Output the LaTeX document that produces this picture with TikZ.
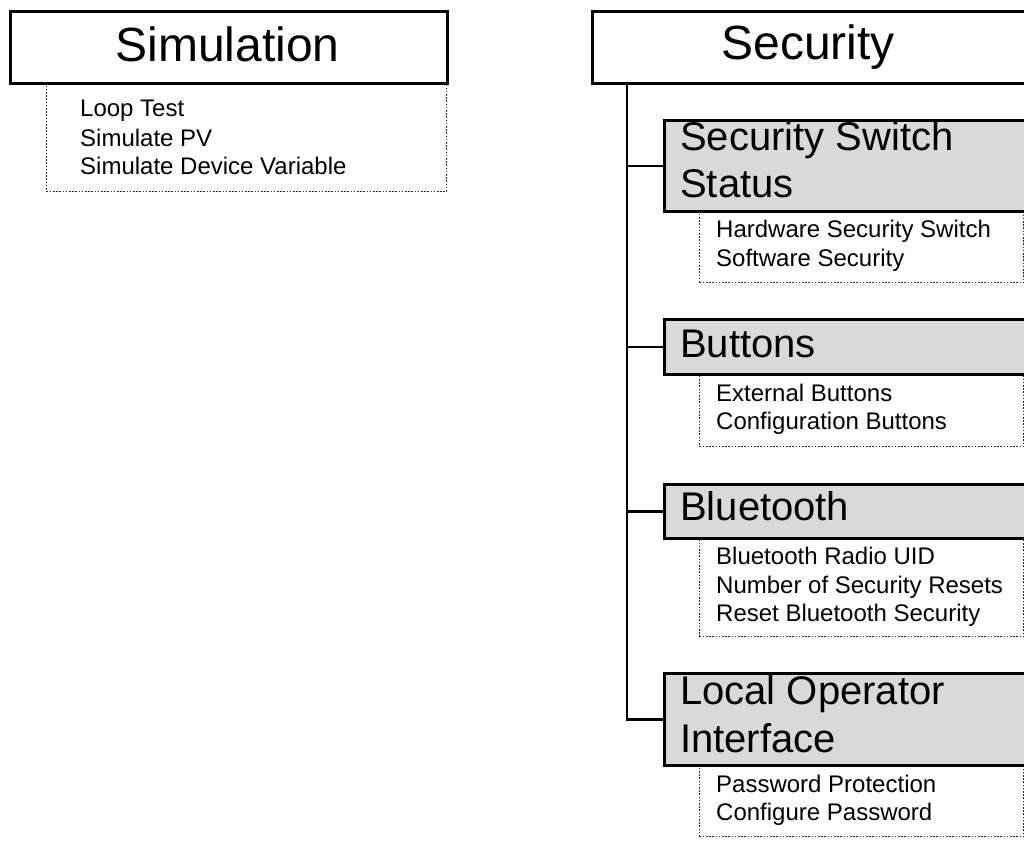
\documentclass[tikz,border=0pt]{standalone}
\usepackage{fontspec}
\setmainfont{Liberation Sans}
\begin{document}
\begin{tikzpicture}[x=1pt,y=-1pt,
  box/.style={draw=black, line width=2.6pt, rectangle, anchor=north west, inner sep=0pt, fill=white},
  subbox/.style={box, fill=gray!30},
  listbox/.style={draw=black!85, line width=1.3pt, dash pattern=on 1.6pt off 1.6pt, rectangle, anchor=north west, inner sep=0pt},
  bigtxt/.style={font=\fontsize{48}{55}\selectfont, anchor=base, inner sep=0pt},
  midtxt/.style={font=\fontsize{40}{47}\selectfont, anchor=base west, inner sep=0pt},
  itemtxt/.style={font=\fontsize{24}{28}\selectfont, anchor=base west, inner sep=0pt},
  conn/.style={draw=black, line width=2.6pt}]
\useasboundingbox (0,0) rectangle (1024,856);
\clip (0,0) rectangle (1024,856);

% Simulation
\node[listbox, minimum width=400pt, minimum height=109pt] (simlist) at (46,82) {};
\node[box, minimum width=437pt, minimum height=72pt] (sim) at (9,10) {};
\node[bigtxt] (simt) at (227.5,62) {Simulation};
\node[itemtxt] (sim1) at (80,117) {Loop Test};
\node[itemtxt] (sim2) at (80,146) {Simulate PV};
\node[itemtxt] (sim3) at (80,174) {Simulate Device Variable};

% Security
\node[box, minimum width=434pt, minimum height=72pt] (sec) at (591,10) {};
\node[bigtxt] (sect) at (808,60) {Security};

% Security Switch Status
\node[listbox, minimum width=324pt, minimum height=72pt] (ssslist) at (699,210) {};
\node[subbox, minimum width=370pt, minimum height=91pt] (sss) at (663,119) {};
\node[midtxt] (ssst1) at (680,150) {Security Switch};
\node[midtxt] (ssst2) at (680,197) {Status};
\node[itemtxt] (sss1) at (716,237) {Hardware Security Switch};
\node[itemtxt] (sss2) at (716,266) {Software Security};

% Buttons
\node[listbox, minimum width=324pt, minimum height=73pt] (btnlist) at (699,373) {};
\node[subbox, minimum width=370pt, minimum height=55pt] (btn) at (663,318) {};
\node[midtxt] (btnt) at (680,357) {Buttons};
\node[itemtxt] (btn1) at (716,401) {External Buttons};
\node[itemtxt] (btn2) at (716,429) {Configuration Buttons};

% Bluetooth
\node[listbox, minimum width=324pt, minimum height=99pt] (btlist) at (699,537) {};
\node[subbox, minimum width=370pt, minimum height=54pt] (bt) at (663,483) {};
\node[midtxt] (btt) at (680,520) {Bluetooth};
\node[itemtxt] (bt1) at (716,564) {Bluetooth Radio UID};
\node[itemtxt] (bt2) at (716,593) {Number of Security Resets};
\node[itemtxt] (bt3) at (716,621) {Reset Bluetooth Security};

% Local Operator Interface
\node[listbox, minimum width=324pt, minimum height=72pt] (loilist) at (699,764) {};
\node[subbox, minimum width=370pt, minimum height=92pt] (loi) at (663,672) {};
\node[midtxt] (loit1) at (680,704) {Local Operator};
\node[midtxt] (loit2) at (680,752) {Interface};
\node[itemtxt] (loi1) at (716,792) {Password Protection};
\node[itemtxt] (loi2) at (716,820) {Configure Password};

% Connectors
\coordinate (trunk) at ([xshift=36pt]sec.south west);
\draw[conn] (trunk) |- (loi.west);
\foreach \n in {sss,btn,bt} \draw[conn] (trunk |- \n.west) -- (\n.west);
\end{tikzpicture}
\end{document}
